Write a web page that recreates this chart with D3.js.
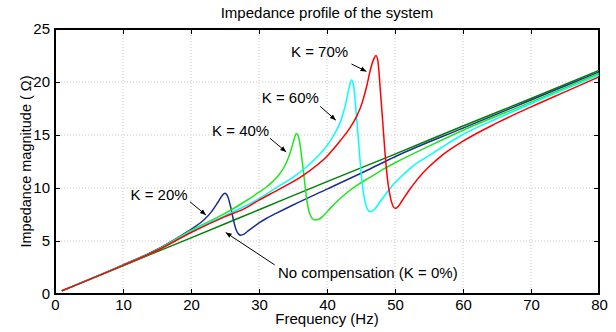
<!DOCTYPE html>
<html>
<head>
<meta charset="utf-8">
<script src="https://cdn.jsdelivr.net/npm/d3@7"></script>
<style>
  body { margin: 0; background: #fff; }
  text { font-family: "Liberation Sans", Arial, sans-serif; fill: #000; }
</style>
</head>
<body>
<div id="chart"></div>
<script>
// impedance magnitude vs frequency: [Hz, ohm]
const noComp = [[1, 0.3], [10, 2.67], [20, 5.3], [30, 7.95], [40, 10.6], [50, 13.2], [60, 15.85], [70, 18.45], [80, 21.1]];

const k20 = [[1, 0.3], [10, 2.75], [15, 4.2], [18, 5.3], [20, 6.1], [22, 7.05], [23, 7.75], [24, 8.7], [24.6, 9.3], [25, 9.5],
  [25.4, 9.2], [25.8, 8.3], [26.2, 7.1], [26.6, 6.1], [27, 5.65], [27.3, 5.55], [27.8, 5.65], [28.5, 6.0], [29.3, 6.38],
  [30, 6.7], [31, 7.1], [32.5, 7.6], [35, 8.4], [40, 9.9], [46, 11.7], [50, 12.95], [60, 15.65], [70, 18.3], [80, 20.95]];

const k40 = [[1, 0.3], [10, 2.72], [15, 4.15], [20, 6.0], [25, 7.6], [28, 8.75], [30, 9.6], [31, 10.05], [32, 10.6],
  [33, 11.3], [33.8, 12.1], [34.4, 13.0], [34.9, 14.0], [35.2, 14.7], [35.5, 15.15], [35.9, 14.6], [36.3, 12.8],
  [36.6, 11.2], [37.0, 9.0], [37.5, 7.5], [38.2, 6.98], [38.8, 7.05], [39.5, 7.4], [40.5, 8.1], [41.5, 8.75],
  [43, 9.6], [44.5, 10.3], [46.3, 11.0], [48.5, 11.85], [50.7, 12.6], [55, 13.95], [60, 15.45], [70, 18.1], [80, 20.8]];

const k60 = [[1, 0.3], [10, 2.72], [15, 4.12], [20, 5.9], [25, 7.4], [28, 8.3], [30, 9.0], [33, 10.2], [35, 11.0],
  [37, 12.0], [38.5, 12.9], [40, 14.0], [41, 15.0], [42, 16.3], [42.7, 17.8], [43.2, 19.3], [43.6, 20.2], [43.9, 19.7],
  [44.2, 17.8], [44.6, 14.7], [45.1, 10.9], [45.6, 8.7], [46.3, 7.77], [47, 8.0], [47.8, 8.7], [48.5, 9.3], [49.5, 10.15],
  [50.7, 10.95], [52.5, 12.0], [55.1, 13.1], [57.5, 14.1], [60, 15.05], [65, 16.55], [70, 17.95], [80, 20.65]];

const k70 = [[1, 0.3], [10, 2.7], [15, 4.1], [20, 5.8], [25, 7.3], [28, 8.1], [30, 8.85], [33, 9.9], [36.5, 11.2],
  [40, 13.0], [42, 14.5], [43.4, 15.7], [44.4, 16.8], [45.2, 18.1], [45.8, 19.5], [46.4, 21.2], [46.9, 22.2],
  [47.2, 22.5], [47.5, 21.9], [47.8, 19.6], [48.2, 16.2], [48.6, 12.8], [49.0, 10.3], [49.4, 8.9], [49.7, 8.3],
  [50.0, 8.08], [50.3, 8.15], [51, 8.75], [52, 9.72], [53, 10.58], [54, 11.34], [55, 12.0], [57, 13.13], [60, 14.42],
  [65, 16.14], [70, 17.65], [75, 19.07], [80, 20.48]];

const xTicks = [0, 10, 20, 30, 40, 50, 60, 70, 80];
const yTicks = [0, 5, 10, 15, 20, 25];

// label text, text anchor [Hz, ohm], arrow tail and head [Hz, ohm]
const notes = [
  { text: 'K = 20%', at: [15.3, 9.4], from: [19.85, 8.7], to: [22.2, 7.45] },
  { text: 'K = 40%', at: [27.3, 15.4], from: [31.6, 14.7], to: [34.0, 13.4] },
  { text: 'K = 60%', at: [34.6, 18.5], from: [39.0, 17.7], to: [41.3, 16.4] },
  { text: 'K = 70%', at: [38.9, 22.9], from: [43.6, 21.7], to: [45.8, 21.0] },
  { text: 'No compensation (K = 0%)', at: [46.0, 2.0], from: [32.3, 2.75], to: [25.1, 5.8] }
];

const width = 616, height = 332;
const margin = { top: 29, right: 17, bottom: 38, left: 55 };
const w = width - margin.left - margin.right;
const h = height - margin.top - margin.bottom;

const svg = d3.select('#chart').append('svg')
  .attr('width', width)
  .attr('height', height);

const defs = svg.append('defs');
defs.append('marker')
  .attr('id', 'head')
  .attr('viewBox', '0 0 10 10')
  .attr('refX', 10).attr('refY', 5)
  .attr('markerWidth', 6).attr('markerHeight', 6)
  .attr('orient', 'auto')
  .append('path')
  .attr('d', 'M0,1 L10,5 L0,9 Z')
  .style('fill', '#000');

const g = svg.append('g')
  .attr('transform', 'translate(' + margin.left + ',' + margin.top + ')');

const x = d3.scaleLinear().domain([0, 80]).range([0, w]);
const y = d3.scaleLinear().domain([0, 25]).range([h, 0]);

// grid
g.append('g').selectAll('line')
  .data(xTicks.slice(1, -1))
  .enter().append('line')
  .attr('x1', d => x(d)).attr('x2', d => x(d))
  .attr('y1', 0).attr('y2', h)
  .style('stroke', '#c8c8c8').style('stroke-dasharray', '1,2');

g.append('g').selectAll('line')
  .data(yTicks.slice(1, -1))
  .enter().append('line')
  .attr('x1', 0).attr('x2', w)
  .attr('y1', d => y(d)).attr('y2', d => y(d))
  .style('stroke', '#c8c8c8').style('stroke-dasharray', '1,2');

// axes, ticks pointing inward like matlab
const xAxis = d3.axisBottom(x).tickValues(xTicks).tickSize(-5).tickPadding(5.5);
const yAxis = d3.axisLeft(y).tickValues(yTicks).tickSize(-5).tickPadding(5);

g.append('g')
  .attr('class', 'x axis')
  .attr('transform', 'translate(0,' + h + ')')
  .call(xAxis);

g.append('g')
  .attr('class', 'y axis')
  .call(yAxis);

g.append('g')
  .call(d3.axisTop(x).tickValues(xTicks).tickSize(-5).tickFormat(''));

g.append('g')
  .attr('transform', 'translate(' + w + ',0)')
  .call(d3.axisRight(y).tickValues(yTicks).tickSize(-5).tickFormat(''));

g.selectAll('.domain').remove();
g.selectAll('.tick line').style('stroke', '#000').style('stroke-width', 1);
g.selectAll('.tick text').style('font-size', '15px').style('font-family', '"Liberation Sans", Arial, sans-serif').style('fill', '#000');

g.append('rect')
  .attr('width', w).attr('height', h)
  .style('fill', 'none').style('stroke', '#000').style('stroke-width', 2);

// curves
const line = d3.line()
  .x(d => x(d[0]))
  .y(d => y(d[1]))
  .curve(d3.curveMonotoneX);

const series = [
  { data: noComp, color: '#008000' },
  { data: k20, color: '#1c2e90' },
  { data: k40, color: '#1ee61e' },
  { data: k60, color: '#00ffff' },
  { data: k70, color: '#ff0000' }
];

series.forEach(s => {
  g.append('path')
    .attr('d', line(s.data))
    .style('fill', 'none')
    .style('stroke', s.color)
    .style('stroke-width', '1.5px');
});

// annotations
notes.forEach(n => {
  g.append('line')
    .attr('x1', x(n.from[0])).attr('y1', y(n.from[1]))
    .attr('x2', x(n.to[0])).attr('y2', y(n.to[1]))
    .style('stroke', '#000').style('stroke-width', 1)
    .attr('marker-end', 'url(#head)');

  g.append('text')
    .attr('x', x(n.at[0])).attr('y', y(n.at[1]))
    .attr('dy', '0.35em')
    .attr('text-anchor', 'middle')
    .style('font-size', '15px')
    .text(n.text);
});

// titles
svg.append('text')
  .attr('x', margin.left + w / 2).attr('y', 18)
  .attr('text-anchor', 'middle')
  .style('font-size', '15px')
  .text('Impedance profile of the system');

svg.append('text')
  .attr('x', margin.left + w / 2).attr('y', 324)
  .attr('text-anchor', 'middle')
  .style('font-size', '15px')
  .text('Frequency (Hz)');

svg.append('text')
  .attr('transform', 'translate(31,' + (margin.top + h / 2) + ') rotate(-90)')
  .attr('text-anchor', 'middle')
  .style('font-size', '14.5px')
  .text('Impedance magnitude ( \u03A9)');
</script>
</body>
</html>
